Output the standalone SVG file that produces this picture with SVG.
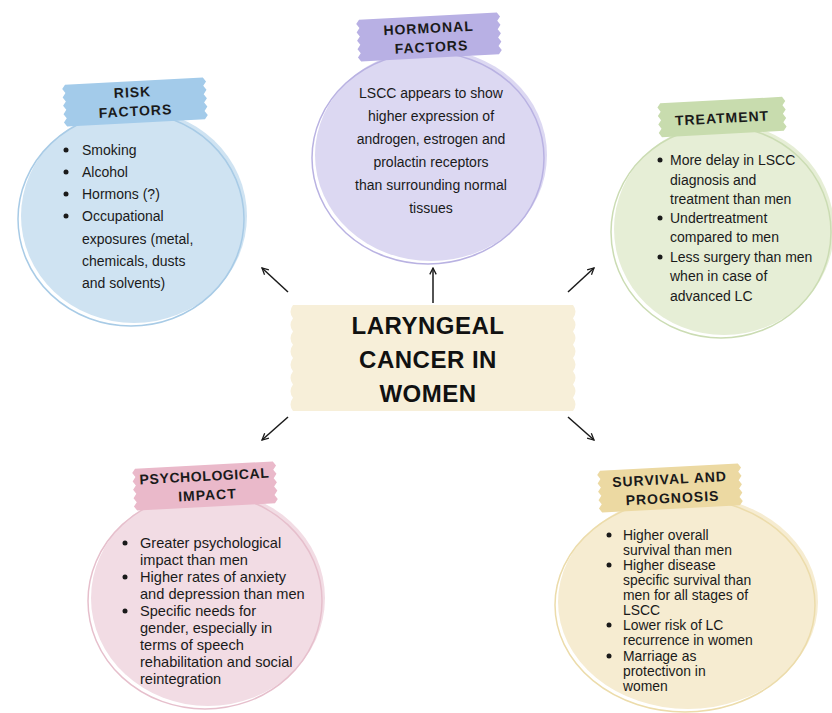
<svg xmlns="http://www.w3.org/2000/svg" xmlns:xlink="http://www.w3.org/1999/xlink" width="832" height="713" viewBox="0 0 832 713">
<style>
.body{font-family:"Liberation Sans",Arial,sans-serif;font-size:14px;fill:#1a1a1a}
.psy{font-size:14.6px}
.small{font-size:13.9px}
.head{font-family:"Liberation Sans",Arial,sans-serif;font-size:14px;font-weight:bold;fill:#1a1a1a;letter-spacing:1px;text-anchor:middle}
.title{font-family:"Liberation Sans",Arial,sans-serif;font-size:24px;font-weight:bold;fill:#111;text-anchor:middle;letter-spacing:0.5px}
.mid{text-anchor:middle}
.ring{fill:none;stroke-width:1.5}
.conn{fill:none;stroke:#1a1a1a;stroke-width:1.5;marker-end:url(#arr)}
</style>
<defs>
<marker id="arr" viewBox="0 0 10 10" refX="9" refY="5" markerWidth="8" markerHeight="8" markerUnits="userSpaceOnUse" orient="auto">
<path d="M1,1 L9,5 L1,9" fill="none" stroke="#1a1a1a" stroke-width="1.6"/>
</marker>
<path id="tape" d="M-69,-21 H69 l3,4.2 l-3,4.2 l3,4.2 l-3,4.2 l3,4.2 l-3,4.2 l3,4.2 l-3,4.2 l3,4.2 l-3,4.2 H-69 l-3,-4.2 l3,-4.2 l-3,-4.2 l3,-4.2 l-3,-4.2 l3,-4.2 l-3,-4.2 l3,-4.2 l-3,-4.2 l3,-4.2 Z"/>
</defs>
<rect width="832" height="713" fill="#ffffff"/>

<g id="risk-factors">
<ellipse cx="134" cy="216" rx="113" ry="107" fill="#cfe3f2"/>
<ellipse cx="131" cy="219" rx="113" ry="107" class="ring" stroke="#a8cbe6"/>
<use xlink:href="#tape" transform="translate(135,102) rotate(-3)" fill="#a3cbea"/>
<g transform="rotate(-3 135 102)">
<text class="head" x="133" y="97">RISK</text>
<text class="head" x="135" y="116">FACTORS</text>
</g>
<circle cx="66" cy="150" r="2.5" fill="#1a1a1a"/>
<circle cx="66" cy="172" r="2.5" fill="#1a1a1a"/>
<circle cx="66" cy="194" r="2.5" fill="#1a1a1a"/>
<circle cx="66" cy="216" r="2.5" fill="#1a1a1a"/>
<text class="body" x="82" y="155">Smoking</text>
<text class="body" x="82" y="177">Alcohol</text>
<text class="body" x="82" y="199">Hormons (?)</text>
<text class="body" x="82" y="221">Occupational</text>
<text class="body" x="82" y="244">exposures (metal,</text>
<text class="body" x="82" y="266">chemicals, dusts</text>
<text class="body" x="82" y="288">and solvents)</text>
</g>

<g id="hormonal-factors">
<ellipse cx="431" cy="155" rx="116" ry="106" fill="#dcd8f2"/>
<ellipse cx="428" cy="158" rx="116" ry="106" class="ring" stroke="#b9b2e2"/>
<use xlink:href="#tape" transform="translate(429,37) rotate(-3)" fill="#b8b0e4"/>
<g transform="rotate(-3 429 37)">
<text class="head" x="429" y="33">HORMONAL</text>
<text class="head" x="431" y="52">FACTORS</text>
</g>
<text class="body mid" x="431" y="98">LSCC appears to show</text>
<text class="body mid" x="431" y="121">higher expression of</text>
<text class="body mid" x="431" y="144">androgen, estrogen and</text>
<text class="body mid" x="431" y="167">prolactin receptors</text>
<text class="body mid" x="431" y="190">than surrounding normal</text>
<text class="body mid" x="431" y="213">tissues</text>
</g>

<g id="treatment">
<ellipse cx="724" cy="229" rx="110" ry="106" fill="#e6eed6"/>
<ellipse cx="721" cy="232" rx="110" ry="106" class="ring" stroke="#cbdcb3"/>
<path d="M-61,-17 H61 l3,4.25 l-3,4.25 l3,4.25 l-3,4.25 l3,4.25 l-3,4.25 l3,4.25 l-3,4.25 H-61 l-3,-4.25 l3,-4.25 l-3,-4.25 l3,-4.25 l-3,-4.25 l3,-4.25 l-3,-4.25 l3,-4.25 Z" transform="translate(722,117) rotate(-3)" fill="#c8dcae"/>
<text class="head" x="722" y="123" transform="rotate(-3 722 117)">TREATMENT</text>
<circle cx="660" cy="160" r="2.5" fill="#1a1a1a"/>
<circle cx="660" cy="218" r="2.5" fill="#1a1a1a"/>
<circle cx="660" cy="257" r="2.5" fill="#1a1a1a"/>
<text class="body" x="670" y="165">More delay in LSCC</text>
<text class="body" x="670" y="185">diagnosis and</text>
<text class="body" x="670" y="204">treatment than men</text>
<text class="body" x="670" y="223">Undertreatment</text>
<text class="body" x="670" y="242">compared to men</text>
<text class="body" x="670" y="262">Less surgery than men</text>
<text class="body" x="670" y="281">when in case of</text>
<text class="body" x="670" y="301">advanced LC</text>
</g>

<g id="center">
<path d="M293,305 H573 q5,6.6 0,13.25 q5,6.6 0,13.25 q5,6.6 0,13.25 q5,6.6 0,13.25 q5,6.6 0,13.25 q5,6.6 0,13.25 q5,6.6 0,13.25 q5,6.6 0,13.25 H293 q-5,-6.6 0,-13.25 q-5,-6.6 0,-13.25 q-5,-6.6 0,-13.25 q-5,-6.6 0,-13.25 q-5,-6.6 0,-13.25 q-5,-6.6 0,-13.25 q-5,-6.6 0,-13.25 q-5,-6.6 0,-13.25 Z" fill="#f7efd9"/>
<text class="title" x="428" y="334">LARYNGEAL</text>
<text class="title" x="428" y="368">CANCER IN</text>
<text class="title" x="428" y="402">WOMEN</text>
</g>

<g id="psychological-impact">
<ellipse cx="208" cy="598" rx="117" ry="108" fill="#f2dce4"/>
<ellipse cx="205" cy="601" rx="117" ry="108" class="ring" stroke="#e6bfcc"/>
<use xlink:href="#tape" transform="translate(205,486) rotate(-3)" fill="#eab9ca"/>
<g transform="rotate(-3 205 486)">
<text class="head" x="205" y="481" style="letter-spacing:0.6px">PSYCHOLOGICAL</text>
<text class="head" x="207" y="500">IMPACT</text>
</g>
<circle cx="125" cy="543" r="2.5" fill="#1a1a1a"/>
<circle cx="125" cy="577" r="2.5" fill="#1a1a1a"/>
<circle cx="125" cy="611" r="2.5" fill="#1a1a1a"/>
<text class="body psy" x="140" y="548">Greater psychological</text>
<text class="body psy" x="140" y="565">impact than men</text>
<text class="body psy" x="140" y="582">Higher rates of anxiety</text>
<text class="body psy" x="140" y="599">and depression than men</text>
<text class="body psy" x="140" y="616">Specific needs for</text>
<text class="body psy" x="140" y="633">gender, especially in</text>
<text class="body psy" x="140" y="650">terms of speech</text>
<text class="body psy" x="140" y="667">rehabilitation and social</text>
<text class="body psy" x="140" y="684">reintegration</text>
</g>

<g id="survival-prognosis">
<ellipse cx="688" cy="602" rx="130" ry="107" fill="#f6ecd1"/>
<ellipse cx="685" cy="605" rx="130" ry="107" class="ring" stroke="#ecdcab"/>
<use xlink:href="#tape" transform="translate(670,488) rotate(-3)" fill="#ecd9a2"/>
<g transform="rotate(-3 670 488)">
<text class="head" x="670" y="484">SURVIVAL AND</text>
<text class="head" x="672" y="503">PROGNOSIS</text>
</g>
<circle cx="609" cy="535" r="2.5" fill="#1a1a1a"/>
<circle cx="609" cy="565" r="2.5" fill="#1a1a1a"/>
<circle cx="609" cy="625" r="2.5" fill="#1a1a1a"/>
<circle cx="609" cy="656" r="2.5" fill="#1a1a1a"/>
<text class="body small" x="623" y="540">Higher overall</text>
<text class="body small" x="623" y="555">survival than men</text>
<text class="body small" x="623" y="570">Higher disease</text>
<text class="body small" x="623" y="585">specific survival than</text>
<text class="body small" x="623" y="600">men for all stages of</text>
<text class="body small" x="623" y="615">LSCC</text>
<text class="body small" x="623" y="630">Lower risk of LC</text>
<text class="body small" x="623" y="645">recurrence in women</text>
<text class="body small" x="623" y="661">Marriage as</text>
<text class="body small" x="623" y="676">protectivon in</text>
<text class="body small" x="623" y="691">women</text>
</g>

<g id="connectors">
<path class="conn" d="M288,292 L262,268"/>
<path class="conn" d="M433,303 L433,268"/>
<path class="conn" d="M568,292 L594,268"/>
<path class="conn" d="M288,417 L262,440"/>
<path class="conn" d="M568,417 L594,440"/>
</g>
</svg>
